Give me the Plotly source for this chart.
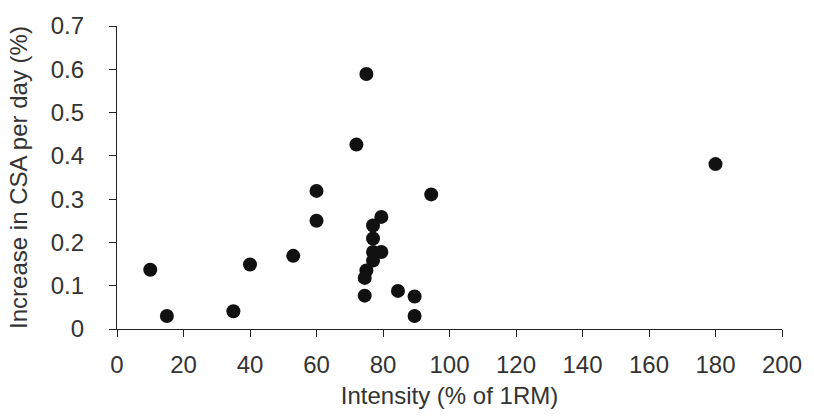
import plotly.graph_objects as go

intensity = [10, 15, 35, 40, 53, 60, 60, 72, 75, 94.5, 180,
             79.5, 77, 77, 77, 79.5, 77, 75, 74.5, 74.5, 84.5, 89.5, 89.5]
csa_increase = [0.137, 0.030, 0.041, 0.149, 0.169, 0.319, 0.250, 0.426, 0.589, 0.311, 0.381,
                0.259, 0.239, 0.209, 0.178, 0.178, 0.158, 0.135, 0.118, 0.077, 0.088, 0.075, 0.030]

x_ticks = [0, 20, 40, 60, 80, 100, 120, 140, 160, 180, 200]
y_ticks = [0, 0.1, 0.2, 0.3, 0.4, 0.5, 0.6, 0.7]
y_tick_labels = ["0", "0.1", "0.2", "0.3", "0.4", "0.5", "0.6", "0.7"]

fig = go.Figure()
fig.add_trace(go.Scatter(
    x=intensity, y=csa_increase, mode="markers",
    marker=dict(size=14, color="#111111", line=dict(width=0)),
    showlegend=False, cliponaxis=False,
))

font = dict(family="Liberation Sans, Arial, sans-serif", size=24, color="#333333")

fig.update_layout(
    width=814, height=417,
    margin=dict(l=117, r=27, t=24, b=82),
    paper_bgcolor="white", plot_bgcolor="white",
    font=font,
    xaxis=dict(
        range=[0, 200], tickvals=x_ticks, ticktext=[str(t) for t in x_ticks],
        showline=True, linecolor="#222222", linewidth=1.2,
        ticks="outside", ticklen=7, tickcolor="#222222", tickwidth=1,
        ticklabelstandoff=7,
        showgrid=False, zeroline=False,
        title=dict(text="Intensity (% of 1RM)", font=dict(size=24), standoff=10),
    ),
    yaxis=dict(
        range=[0, 0.7], tickvals=y_ticks, ticktext=y_tick_labels,
        showline=True, linecolor="#222222", linewidth=1.2,
        ticks="outside", ticklen=7, tickcolor="#222222", tickwidth=1,
        ticklabelstandoff=20,
        showgrid=False, zeroline=False,
        title=dict(text="Increase in CSA per day (%)", font=dict(size=24), standoff=16),
    ),
)

fig.write_html("out.html")
